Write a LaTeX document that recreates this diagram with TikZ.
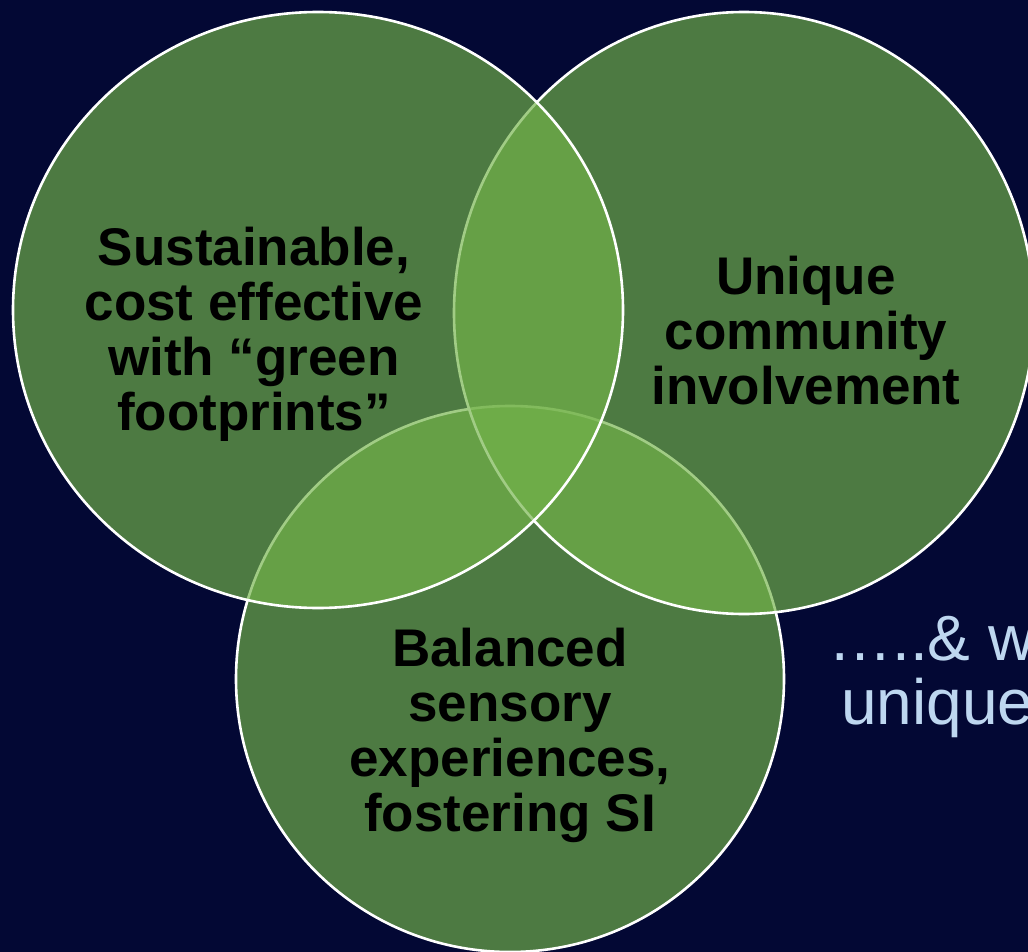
\documentclass[tikz,border=0pt]{standalone}
\usepackage{fontspec}
\setmainfont{Liberation Sans}
\definecolor{navy}{RGB}{3,8,52}
\definecolor{leafgreen}{RGB}{115,179,73}
\definecolor{paleblue}{RGB}{190,215,240}
\begin{document}
\begin{tikzpicture}[x=1pt,y=-1pt,
  ring/.style={draw=white,line width=2.6pt,fill=leafgreen,fill opacity=0.667},
  label/.style={align=center,inner sep=0pt,text=black,
    font=\fontsize{53}{55}\selectfont\bfseries},
  aside/.style={anchor=base west,inner sep=0pt,text=paleblue,
    font=\fontsize{64}{66}\selectfont}]
  \useasboundingbox (0,0) rectangle (1028,952);
  \clip (0,0) rectangle (1028,952);
  \fill[navy] (0,0) rectangle (1028,952);

  % three overlapping sets, the lowest one first
  \path[ring] (510,679) ellipse [x radius=274, y radius=273];
  \path[ring] (744,313) ellipse [x radius=290, y radius=301];
  \path[ring] (318,310) ellipse [x radius=305, y radius=298];

  \node[label] (green) at (254,334)
    {Sustainable,\\cost effective\\with “green\\footprints”};
  \node[label] (community) at (806,331)
    {Unique\\community\\involvement};
  \node[label] (sensory) at (510,735)
    {Balanced\\sensory\\experiences,\\fostering SI};

  \node[aside] (more) at (828,660) {…..\& w};
  \node[aside] (unique) at (841,724) {unique};
\end{tikzpicture}
\end{document}
